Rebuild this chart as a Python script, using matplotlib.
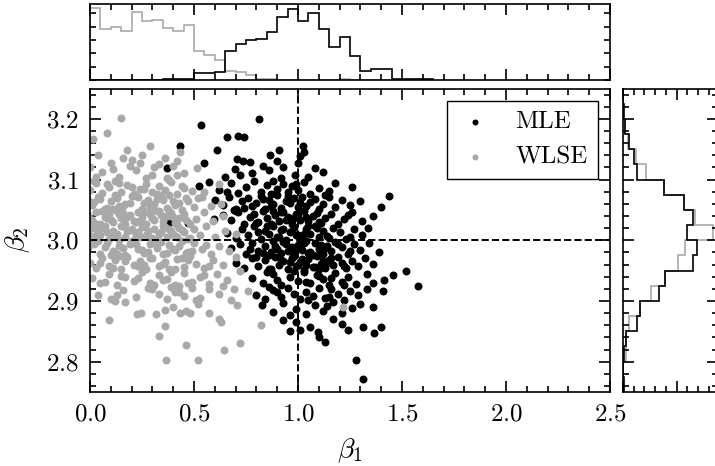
import numpy as np
import matplotlib
matplotlib.use("Agg")
import matplotlib.pyplot as plt
from matplotlib.ticker import MultipleLocator

# ---------------- data ----------------
mle_b1 = [
    # beta2 > 3.10
    0.814, 0.532, 0.657, 0.713, 0.740, 0.433, 1.026, 0.612, 1.010, 0.998,
    0.910, 0.865, 0.897, 0.705, 0.737, 0.769, 0.548, 1.030, 0.372, 0.830,
    0.697, 1.083, 0.986, 0.649, 0.860, 0.930, 0.780, 1.050, 0.920, 0.720,
    1.120,
    # 3.075 - 3.10
    0.526, 0.574, 1.260, 1.439, 0.62, 0.68, 0.71, 0.75, 0.79, 0.82,
    0.85, 0.87, 0.90, 0.93, 0.95, 0.97, 1.00, 1.03, 1.06, 1.10,
    1.15, 0.66, 0.88, 0.99, 1.18,
    # 3.05 - 3.075
    1.401, 0.60, 0.64, 0.67, 0.70, 0.73, 0.76, 0.78, 0.80, 0.82,
    0.84, 0.86, 0.88, 0.90, 0.92, 0.94, 0.96, 0.98, 1.00, 1.02,
    1.04, 1.06, 1.08, 1.10, 1.12, 1.15, 1.18, 1.21, 1.25, 1.30,
    0.74, 0.87, 0.95, 1.01, 0.83, 1.13, 0.69,
    # 3.025 - 3.05
    0.381, 0.473, 0.596, 0.64, 0.68, 0.71, 0.74, 0.77, 0.79, 0.81,
    0.83, 0.85, 0.87, 0.89, 0.91, 0.93, 0.95, 0.97, 0.99, 1.01,
    1.03, 1.05, 1.07, 1.09, 1.11, 1.13, 1.16, 1.19, 1.22, 1.26,
    1.31, 1.36, 0.80, 0.88, 0.94, 1.00, 1.04, 1.10, 0.92, 0.98,
    1.24, 0.70,
    # 3.00 - 3.025
    1.338, 0.66, 0.70, 0.73, 0.76, 0.79, 0.82, 0.84, 0.86, 0.88,
    0.90, 0.92, 0.94, 0.96, 0.98, 1.00, 1.02, 1.04, 1.06, 1.08,
    1.10, 1.12, 1.14, 1.17, 1.20, 1.23, 1.27, 1.31, 0.85, 0.91,
    0.97, 1.03, 1.09, 1.15, 0.81, 0.99, 1.05, 0.93, 1.25,
    # 2.975 - 3.00
    1.389, 0.68, 0.72, 0.75, 0.78, 0.81, 0.84, 0.86, 0.88, 0.90,
    0.92, 0.94, 0.96, 0.98, 1.00, 1.02, 1.04, 1.06, 1.08, 1.10,
    1.12, 1.14, 1.16, 1.18, 1.21, 1.24, 1.27, 1.30, 1.34, 0.83,
    0.89, 0.95, 1.01, 1.07, 1.13, 1.19, 0.87, 0.93, 0.99, 1.05,
    1.11, 0.77, 1.25, 1.03, 0.97,
    # 2.95 - 2.975
    0.70, 0.74, 0.78, 0.81, 0.84, 0.87, 0.89, 0.91, 0.93, 0.95,
    0.97, 0.99, 1.01, 1.03, 1.05, 1.07, 1.09, 1.11, 1.13, 1.15,
    1.17, 1.19, 1.21, 1.23, 1.26, 1.29, 1.32, 1.36, 0.86, 0.92,
    0.98, 1.04, 1.10, 1.16, 1.22, 0.96, 1.02, 1.08, 1.14, 0.80,
    1.00, 1.12,
    # 2.925 - 2.95
    1.519, 1.458, 1.413, 0.78, 0.83, 0.88, 0.92, 0.96, 1.00, 1.03,
    1.06, 1.09, 1.12, 1.15, 1.18, 1.21, 1.24, 1.28, 1.33, 0.90,
    0.98, 1.04, 1.10, 1.16, 1.22, 0.85, 1.36,
    # 2.90 - 2.925
    1.575, 1.410, 0.80, 0.84, 0.88, 0.92, 0.95, 0.98, 1.01, 1.04,
    1.07, 1.10, 1.13, 1.16, 1.19, 1.22, 1.25, 1.29, 1.33, 0.90,
    1.05, 1.15, 0.86,
    # 2.875 - 2.90
    1.359, 0.825, 0.88, 0.93, 0.99, 1.04, 1.08, 1.12, 1.17, 1.21,
    1.26, 1.30, 0.96, 1.14,
    # below 2.875
    1.399, 0.962, 0.930, 1.058, 1.098, 1.242, 1.010, 1.367, 1.314, 1.130,
    1.10, 1.277, 1.314, 1.21, 1.17, 0.99,
]
mle_b2 = [
    3.200, 3.190, 3.170, 3.172, 3.170, 3.156, 3.155, 3.149, 3.139, 3.128,
    3.149, 3.141, 3.130, 3.134, 3.130, 3.129, 3.128, 3.145, 3.119, 3.122,
    3.117, 3.119, 3.108, 3.104, 3.115, 3.120, 3.110, 3.105, 3.102, 3.108,
    3.112,
    3.089, 3.096, 3.087, 3.073, 3.082, 3.094, 3.078, 3.088, 3.097, 3.080,
    3.091, 3.076, 3.085, 3.093, 3.079, 3.090, 3.083, 3.096, 3.077, 3.086,
    3.081, 3.079, 3.098, 3.092, 3.095,
    3.055, 3.066, 3.058, 3.071, 3.052, 3.064, 3.070, 3.056, 3.062, 3.073,
    3.051, 3.067, 3.059, 3.074, 3.053, 3.065, 3.061, 3.069, 3.054, 3.072,
    3.057, 3.063, 3.068, 3.052, 3.060, 3.071, 3.055, 3.066, 3.058, 3.064,
    3.053, 3.057, 3.073, 3.062, 3.068, 3.074, 3.050,
    3.028, 3.029, 3.035, 3.041, 3.033, 3.047, 3.027, 3.038, 3.044, 3.030,
    3.049, 3.036, 3.026, 3.042, 3.032, 3.046, 3.039, 3.027, 3.043, 3.034,
    3.048, 3.031, 3.040, 3.045, 3.029, 3.037, 3.043, 3.026, 3.035, 3.047,
    3.032, 3.040, 3.028, 3.049, 3.033, 3.044, 3.038, 3.030, 3.046, 3.036,
    3.041, 3.049,
    3.021, 3.012, 3.004, 3.019, 3.008, 3.023, 3.002, 3.015, 3.010, 3.024,
    3.006, 3.017, 3.001, 3.013, 3.022, 3.009, 3.003, 3.018, 3.011, 3.024,
    3.005, 3.016, 3.007, 3.020, 3.013, 3.002, 3.018, 3.009, 3.024, 3.005,
    3.016, 3.011, 3.021, 3.003, 3.014, 3.008, 3.023, 3.019, 3.006,
    2.980, 2.987, 2.993, 2.978, 2.996, 2.983, 2.990, 2.976, 2.998, 2.985,
    2.979, 2.994, 2.988, 2.977, 2.992, 2.984, 2.999, 2.981, 2.995, 2.986,
    2.977, 2.991, 2.982, 2.997, 2.989, 2.978, 2.993, 2.984, 2.996, 2.979,
    2.990, 2.983, 2.998, 2.976, 2.988, 2.994, 2.981, 2.997, 2.985, 2.979,
    2.992, 2.986, 2.983, 2.995, 2.989,
    2.962, 2.955, 2.970, 2.958, 2.967, 2.952, 2.973, 2.960, 2.965, 2.953,
    2.971, 2.957, 2.964, 2.951, 2.969, 2.956, 2.974, 2.961, 2.954, 2.968,
    2.959, 2.972, 2.963, 2.955, 2.966, 2.958, 2.970, 2.961, 2.953, 2.967,
    2.974, 2.960, 2.952, 2.971, 2.957, 2.964, 2.969, 2.956, 2.963, 2.972,
    2.959, 2.966,
    2.950, 2.942, 2.934, 2.938, 2.930, 2.945, 2.927, 2.940, 2.933, 2.948,
    2.929, 2.943, 2.936, 2.926, 2.946, 2.932, 2.939, 2.928, 2.944, 2.935,
    2.949, 2.931, 2.941, 2.937, 2.927, 2.947, 2.930,
    2.925, 2.917, 2.910, 2.904, 2.918, 2.907, 2.921, 2.912, 2.903, 2.915,
    2.908, 2.922, 2.905, 2.919, 2.911, 2.902, 2.916, 2.909, 2.920, 2.914,
    2.901, 2.906, 2.923,
    2.890, 2.894, 2.882, 2.897, 2.886, 2.879, 2.893, 2.884, 2.898, 2.880,
    2.888, 2.895, 2.877, 2.891,
    2.857, 2.850, 2.868, 2.857, 2.849, 2.852, 2.852, 2.847, 2.857, 2.832,
    2.840, 2.802, 2.772, 2.862, 2.870, 2.865,
]

wlse_b1 = [
    # beta2 > 3.10
    0.147, 0.016, 0.080, 0.288, 0.176, 0.433, 0.040, 0.250, 0.360, 0.200,
    0.100, 0.420, 0.513, 0.417, 0.000, 0.310, 0.060, 0.220, 0.140, 0.370,
    0.270, 0.330, 0.190, 0.450, 0.110, 0.030, 0.240, 0.400, 0.160, 0.300,
    # 3.075 - 3.10
    0.00, 0.03, 0.06, 0.09, 0.12, 0.15, 0.18, 0.21, 0.24, 0.27,
    0.30, 0.33, 0.36, 0.39, 0.42, 0.45, 0.49, 0.55, 0.02, 0.08,
    0.14, 0.20, 0.26, 0.32, 0.38, 0.44, 0.62,
    # 3.05 - 3.075
    -0.01, 0.01, 0.04, 0.07, 0.10, 0.13, 0.16, 0.19, 0.22, 0.25,
    0.28, 0.31, 0.34, 0.37, 0.40, 0.43, 0.46, 0.50, 0.54, 0.58,
    0.02, 0.05, 0.11, 0.17, 0.23, 0.29, 0.35, 0.41, 0.47, 0.08,
    0.14, 0.20, 0.26, 0.32, 0.38, 0.44, 0.63, 0.52, 0.12, 0.30,
    # 3.025 - 3.05
    -0.01, 0.01, 0.03, 0.05, 0.07, 0.09, 0.11, 0.13, 0.15, 0.17,
    0.19, 0.21, 0.23, 0.25, 0.27, 0.29, 0.31, 0.33, 0.35, 0.37,
    0.39, 0.41, 0.43, 0.45, 0.48, 0.51, 0.55, 0.59, 0.64, 0.02,
    0.06, 0.10, 0.14, 0.18, 0.22, 0.26, 0.30, 0.34, 0.38, 0.42,
    0.46, 0.00, 0.08, 0.16, 0.24, 0.32, 0.40,
    # 3.00 - 3.025
    -0.01, 0.01, 0.03, 0.05, 0.07, 0.09, 0.11, 0.13, 0.15, 0.17,
    0.19, 0.21, 0.23, 0.25, 0.27, 0.29, 0.31, 0.33, 0.35, 0.37,
    0.39, 0.41, 0.43, 0.45, 0.47, 0.50, 0.53, 0.56, 0.60, 0.65,
    0.70, 0.00, 0.04, 0.08, 0.12, 0.16, 0.20, 0.24, 0.28, 0.32,
    0.36, 0.40, 0.44, 0.48, 0.02, 0.06, 0.10, 0.14, 0.18, 0.22,
    0.26, 0.30, 0.34, 0.38, 0.42,
    # 2.975 - 3.00
    -0.01, 0.02, 0.05, 0.08, 0.11, 0.14, 0.17, 0.20, 0.23, 0.26,
    0.29, 0.32, 0.35, 0.38, 0.41, 0.44, 0.47, 0.50, 0.54, 0.58,
    0.62, 0.67, 0.01, 0.07, 0.13, 0.19, 0.25, 0.31, 0.37, 0.43,
    0.49, 0.04, 0.10, 0.16, 0.22, 0.28, 0.34, 0.40, 0.46, 0.56,
    # 2.95 - 2.975
    0.00, 0.03, 0.06, 0.09, 0.12, 0.15, 0.18, 0.21, 0.24, 0.27,
    0.30, 0.33, 0.36, 0.39, 0.42, 0.45, 0.48, 0.51, 0.55, 0.59,
    0.64, 0.70, 0.05, 0.11, 0.17, 0.23, 0.29, 0.35, 0.41, 0.47,
    0.14, 0.26, 0.38, 0.44, 0.57,
    # 2.925 - 2.95
    0.01, 0.05, 0.09, 0.13, 0.17, 0.21, 0.25, 0.29, 0.33, 0.37,
    0.41, 0.45, 0.49, 0.53, 0.57, 0.61, 0.66, 0.72, 0.07, 0.15,
    0.23, 0.31, 0.39, 0.47, 0.55, 0.35, 0.43,
    # 2.90 - 2.925
    0.04, 0.10, 0.16, 0.22, 0.28, 0.33, 0.37, 0.41, 0.45, 0.49,
    0.53, 0.57, 0.62, 0.68, 0.76, 0.13, 0.30, 0.43, 0.51, 0.39,
    0.641, 0.690,
    # 2.875 - 2.90
    0.12, 0.17, 0.228, 0.245, 0.317, 0.36, 0.433, 0.46, 0.48, 0.574,
    0.708, 0.40, 0.52, 1.218,
    # below 2.875
    0.093, 0.62, 0.63, 0.361, 0.822, 0.333, 0.460, 0.646, 0.721, 0.365,
    0.521,
]
wlse_b2 = [
    3.201, 3.166, 3.176, 3.156, 3.149, 3.146, 3.140, 3.140, 3.136, 3.133,
    3.128, 3.130, 3.119, 3.108, 3.120, 3.120, 3.112, 3.115, 3.105, 3.102,
    3.103, 3.125, 3.122, 3.110, 3.117, 3.104, 3.128, 3.123, 3.135, 3.107,
    3.082, 3.094, 3.078, 3.088, 3.097, 3.080, 3.091, 3.076, 3.085, 3.093,
    3.079, 3.090, 3.083, 3.096, 3.077, 3.086, 3.081, 3.079, 3.098, 3.092,
    3.095, 3.087, 3.084, 3.077, 3.099, 3.089, 3.092,
    3.066, 3.058, 3.071, 3.052, 3.064, 3.070, 3.056, 3.062, 3.073, 3.051,
    3.067, 3.059, 3.074, 3.053, 3.065, 3.061, 3.069, 3.054, 3.072, 3.057,
    3.063, 3.068, 3.052, 3.060, 3.071, 3.055, 3.066, 3.058, 3.064, 3.053,
    3.057, 3.073, 3.062, 3.068, 3.074, 3.050, 3.060, 3.070, 3.075, 3.051,
    3.041, 3.033, 3.047, 3.027, 3.038, 3.044, 3.030, 3.049, 3.036, 3.026,
    3.042, 3.032, 3.046, 3.039, 3.027, 3.043, 3.034, 3.048, 3.031, 3.040,
    3.045, 3.029, 3.037, 3.043, 3.026, 3.035, 3.047, 3.032, 3.040, 3.028,
    3.049, 3.033, 3.044, 3.038, 3.030, 3.046, 3.036, 3.041, 3.049, 3.025,
    3.034, 3.028, 3.037, 3.045, 3.031, 3.048, 3.039,
    3.012, 3.004, 3.019, 3.008, 3.023, 3.002, 3.015, 3.010, 3.024, 3.006,
    3.017, 3.001, 3.013, 3.022, 3.009, 3.003, 3.018, 3.011, 3.024, 3.005,
    3.016, 3.007, 3.020, 3.013, 3.002, 3.018, 3.009, 3.024, 3.005, 3.016,
    3.011, 3.021, 3.003, 3.014, 3.008, 3.023, 3.019, 3.006, 3.015, 3.001,
    3.022, 3.010, 3.017, 3.004, 3.007, 3.020, 3.012, 3.000, 3.016, 3.009,
    3.023, 3.003, 3.014, 3.019, 3.006,
    2.987, 2.993, 2.978, 2.996, 2.983, 2.990, 2.976, 2.998, 2.985, 2.979,
    2.994, 2.988, 2.977, 2.992, 2.984, 2.999, 2.981, 2.995, 2.986, 2.977,
    2.991, 2.982, 2.997, 2.989, 2.978, 2.993, 2.984, 2.996, 2.979, 2.990,
    2.983, 2.998, 2.976, 2.988, 2.994, 2.981, 2.997, 2.985, 2.979, 2.992,
    2.962, 2.955, 2.970, 2.958, 2.967, 2.952, 2.973, 2.960, 2.965, 2.953,
    2.971, 2.957, 2.964, 2.951, 2.969, 2.956, 2.974, 2.961, 2.954, 2.968,
    2.959, 2.972, 2.963, 2.955, 2.966, 2.958, 2.970, 2.961, 2.953, 2.967,
    2.974, 2.960, 2.952, 2.971, 2.957,
    2.938, 2.930, 2.945, 2.927, 2.940, 2.933, 2.948, 2.929, 2.943, 2.936,
    2.926, 2.946, 2.932, 2.939, 2.928, 2.944, 2.935, 2.949, 2.931, 2.941,
    2.937, 2.927, 2.947, 2.930, 2.942, 2.934, 2.925,
    2.910, 2.904, 2.918, 2.907, 2.921, 2.912, 2.903, 2.915, 2.908, 2.922,
    2.905, 2.919, 2.911, 2.902, 2.916, 2.909, 2.920, 2.914, 2.901, 2.923,
    2.924, 2.920,
    2.900, 2.898, 2.878, 2.880, 2.878, 2.885, 2.880, 2.883, 2.880, 2.880,
    2.893, 2.890, 2.895, 2.890,
    2.868, 2.870, 2.866, 2.858, 2.860, 2.843, 2.827, 2.820, 2.830, 2.802,
    2.802,
]

# marginal histogram of beta1 (bins of 0.05 from 0.00 to 1.65)
b1_edges = [round(0.05 * i, 2) for i in range(34)]
b1_counts_wlse = [54, 38, 40, 37, 51, 44, 45, 39, 37, 41,
                  22, 19, 15, 7, 6, 4, 1, 1, 0, 0,
                  0, 0, 0, 0, 1, 0, 0, 0, 0, 0,
                  0, 0, 0]
b1_counts_mle = [0, 0, 0, 0, 0, 0, 0, 1, 1, 1,
                 5, 5, 6, 22, 27, 30, 31, 36, 47, 53,
                 44, 50, 38, 25, 32, 18, 7, 8, 8, 1,
                 1, 1, 1]

# marginal histogram of beta2 (bins of 0.025 from 2.75 to 3.25)
b2_edges = [round(2.75 + 0.025 * i, 3) for i in range(21)]
b2_counts_mle = [1, 0, 1, 3, 13, 16, 34, 39, 65, 69,
                 60, 65, 57, 38, 13, 10, 6, 2, 1, 0]
b2_counts_wlse = [0, 0, 3, 3, 6, 16, 26, 39, 51, 58,
                  84, 67, 57, 38, 21, 12, 5, 2, 0, 0]

true_b1 = 1.0
true_b2 = 3.0

# ---------------- style ----------------
plt.rcParams.update({
    "font.family": "serif",
    "font.serif": ["cmr10", "DejaVu Serif"],
    "mathtext.fontset": "cm",
    "axes.formatter.use_mathtext": True,
    "font.size": 18,
    "axes.linewidth": 1.2,
})
GRAY = "#a9a9a9"

W, H = 715, 466
fig = plt.figure(figsize=(W / 100, H / 100), dpi=100)


def box(l, t, r, b):
    return [l / W, 1 - b / H, (r - l) / W, (b - t) / H]


ax = fig.add_axes(box(90, 88.5, 610, 392))
axt = fig.add_axes(box(90, 4, 610, 80), sharex=ax)
axr = fig.add_axes(box(623, 88.5, 718, 392), sharey=ax)

# scatter
ax.scatter(mle_b1, mle_b2, s=33, c="k", linewidths=0, label="MLE", zorder=2)
ax.scatter(wlse_b1, wlse_b2, s=33, c=GRAY, linewidths=0, label="WLSE", zorder=2)
ax.axvline(true_b1, color="k", ls="--", lw=1.4, zorder=3)
ax.axhline(true_b2, color="k", ls="--", lw=1.4, zorder=3)

ax.set_xlim(0, 2.5)
ax.set_ylim(2.75, 3.25)
ax.xaxis.set_major_locator(MultipleLocator(0.5))
ax.xaxis.set_minor_locator(MultipleLocator(0.1))
ax.yaxis.set_major_locator(MultipleLocator(0.1))
ax.yaxis.set_minor_locator(MultipleLocator(0.02))

ax.set_xlabel(r"$\beta_1$", fontsize=20)
ax.set_ylabel(r"$\beta_2$", fontsize=20)
ax.xaxis.set_label_coords(0.5, -0.145)
ax.yaxis.set_label_coords(-0.112, 0.5)

leg = ax.legend(loc="upper right", markerscale=0.75, handlelength=1.5,
                handletextpad=0.85, borderaxespad=0.5, fancybox=False,
                edgecolor="k", framealpha=1, fontsize=18, scatterpoints=1)
leg.get_frame().set_linewidth(1.0)
leg.set_zorder(5)

# top histogram
axt.stairs(b1_counts_wlse, b1_edges, color=GRAY, lw=1.2)
axt.stairs(b1_counts_mle, b1_edges, color="k", lw=1.2)
axt.set_ylim(0, 57)
axt.yaxis.set_major_locator(MultipleLocator(10))

# right histogram
axr.stairs(b2_counts_wlse, b2_edges, orientation="horizontal", color=GRAY, lw=1.2)
axr.stairs(b2_counts_mle, b2_edges, orientation="horizontal", color="k", lw=1.2)
axr.set_xlim(0, 88.5)
axr.xaxis.set_major_locator(MultipleLocator(50))
axr.xaxis.set_minor_locator(MultipleLocator(10))

for a in (ax, axt, axr):
    a.tick_params(which="both", direction="in", top=True, right=True, width=1.2)
    a.tick_params(which="major", length=8, pad=8, labelsize=18)
    a.tick_params(which="minor", length=4.3)

axt.tick_params(axis="y", which="major", length=4.5)
axt.tick_params(labelbottom=False, labelleft=False)
axr.tick_params(labelbottom=False, labelleft=False)

fig.savefig("out.png", dpi=100)
